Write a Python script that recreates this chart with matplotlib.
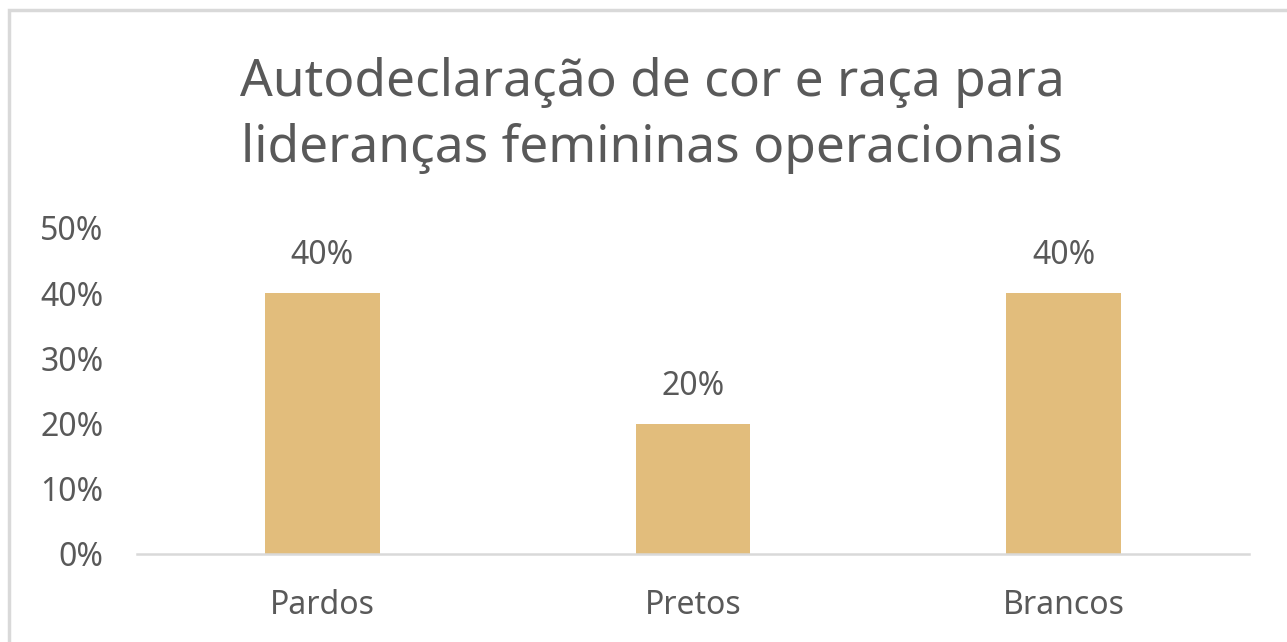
import matplotlib.pyplot as plt
from matplotlib.patches import Rectangle
from matplotlib.ticker import PercentFormatter

categorias = ['Pardos', 'Pretos', 'Brancos']
valores = [0.40, 0.20, 0.40]
rotulos = ['40%', '20%', '40%']

cinza = '#595959'
plt.rcParams['font.family'] = ['Noto Sans', 'DejaVu Sans']

fig = plt.figure(figsize=(12.87, 6.42), dpi=100)
fig.patch.set_facecolor('white')

# moldura do grafico (cortada a direita e embaixo)
fig.patches.append(Rectangle((9 / 1287, -0.05), 1.1, 1 - 10 / 642 + 0.05,
                             transform=fig.transFigure, fill=False,
                             edgecolor='#d9d9d9', lw=2.5))

ax = fig.add_axes([0.1064, 0.1371, 0.8641, 0.5078])
ax.bar(range(len(categorias)), valores, width=0.31, color='#e2bd7c')
for i, (v, r) in enumerate(zip(valores, rotulos)):
    ax.text(i, v + 0.044, r, ha='center', va='baseline', fontsize=23, color=cinza)

ax.set_xlim(-0.5, 2.5)
ax.set_ylim(0, 0.5)
ax.set_yticks([0, 0.1, 0.2, 0.3, 0.4, 0.5])
ax.yaxis.set_major_formatter(PercentFormatter(1.0, decimals=0))
ax.set_xticks(range(len(categorias)))
ax.set_xticklabels(categorias)
ax.tick_params(axis='both', length=0, labelsize=23, labelcolor=cinza)
ax.tick_params(axis='x', pad=25)
ax.tick_params(axis='y', pad=24)
for s in ['top', 'right', 'left']:
    ax.spines[s].set_visible(False)
ax.spines['bottom'].set_color('#d9d9d9')
ax.spines['bottom'].set_linewidth(1.8)

fig.text(0.5066, 0.8196, 'Autodeclaração de cor e raça para\nlideranças femininas operacionais',
         ha='center', va='center', fontsize=37, color=cinza, linespacing=1.38)

fig.savefig('out.png', dpi=100)
